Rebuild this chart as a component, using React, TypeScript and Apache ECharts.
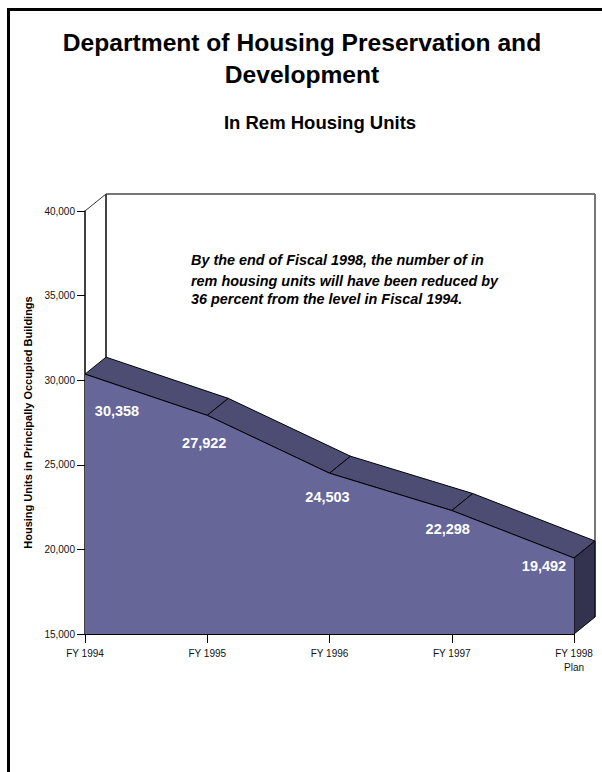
import React, { useEffect, useRef } from "react";
import * as echarts from "echarts";

const categories = ["FY 1994", "FY 1995", "FY 1996", "FY 1997", "FY 1998\nPlan"];
const units = [30358, 27922, 24503, 22298, 19492];
const unitLabels = ["30,358", "27,922", "24,503", "22,298", "19,492"];
const yMin = 15000;
const yMax = 40000;
const yStep = 5000;
const labelOffsets = [[32, 37], [-3, 28], [-2, 24], [-4, 18], [-30, 8]];
const noteLines = [
  "By the end of Fiscal 1998, the number of in",
  "rem housing units will have been reduced by",
  "36 percent from the level in Fiscal 1994.",
];
const noteY = [260, 281, 299];

const DX = 21;
const DY = -17;
const FONT = '"Liberation Sans", Arial, sans-serif';
const FRONT = "#666699";
const TOP = "#4d4d73";
const SIDE = "#33334f";

export default function App() {
  const ref = useRef<HTMLDivElement>(null);
  useEffect(() => {
    document.body.style.margin = "0";
    const chart = echarts.init(ref.current!, null, { renderer: "svg" });
    const option: any = {
      animation: false,
      backgroundColor: "#ffffff",
      title: [
        {
          text: "Department of Housing Preservation and\nDevelopment",
          left: 302,
          top: 26,
          padding: 0,
          textAlign: "center",
          textStyle: { fontFamily: FONT, fontSize: 24.6, fontWeight: "bold", color: "#000", lineHeight: 32.5 },
        },
        {
          text: "In Rem Housing Units",
          left: 320,
          top: 113,
          padding: 0,
          textAlign: "center",
          textStyle: { fontFamily: FONT, fontSize: 18.5, fontWeight: "bold", color: "#000" },
        },
      ],
      grid: { left: 85, right: 28, top: 211, bottom: 138, containLabel: false },
      xAxis: {
        type: "category",
        data: categories,
        boundaryGap: false,
        axisLine: { show: true, lineStyle: { color: "#000", width: 1 } },
        axisTick: { show: true, length: 9, alignWithLabel: true, lineStyle: { color: "#000", width: 1 } },
        axisLabel: {
          show: true, interval: 0, margin: 12, fontFamily: FONT, fontSize: 10, color: "#111", lineHeight: 14,
          showMinLabel: true, showMaxLabel: true, hideOverlap: false,
        },
      },
      yAxis: {
        type: "value",
        min: yMin,
        max: yMax,
        interval: yStep,
        name: "Housing Units in Principally Occupied Buildings",
        nameLocation: "middle",
        nameGap: 44.5,
        nameTextStyle: { fontFamily: FONT, fontSize: 11, fontWeight: "bold", color: "#000" },
        axisLine: { show: true, lineStyle: { color: "#000", width: 1.5 } },
        axisTick: { show: true, length: 8, lineStyle: { color: "#000", width: 1 } },
        axisLabel: {
          margin: 10, fontFamily: FONT, fontSize: 10, color: "#111",
          formatter: (v: number) => v.toLocaleString("en-US"),
        },
        splitLine: { show: false },
      },
      series: [
        {
          type: "custom",
          name: "walls",
          coordinateSystem: "cartesian2d",
          clip: false,
          silent: true,
          z: 1,
          data: [[0, yMax]],
          renderItem: (_p: any, api: any) => {
            const [x0, yT] = api.coord([0, yMax]);
            const [x1, yB] = api.coord([categories.length - 1, yMin]);
            const [, yF] = api.coord([0, units[0]]);
            const grey = { stroke: "#777777", lineWidth: 2, fill: "none" };
            return {
              type: "group",
              children: [
                { type: "line", shape: { x1: x0 + DX, y1: yT + DY, x2: x1 + DX, y2: yT + DY }, style: grey },
                { type: "line", shape: { x1: x1 + DX, y1: yT + DY, x2: x1 + DX, y2: yB + DY }, style: grey },
                { type: "line", shape: { x1: x0 + DX, y1: yT + DY, x2: x0 + DX, y2: yF + DY }, style: { stroke: "#444444", lineWidth: 2, fill: "none" } },
                { type: "line", shape: { x1: x0, y1: yT, x2: x0 + DX, y2: yT + DY }, style: { stroke: "#333333", lineWidth: 1, fill: "none" } },
              ],
            };
          },
        },
        {
          type: "custom",
          name: "top faces",
          coordinateSystem: "cartesian2d",
          clip: false,
          silent: true,
          z: 2,
          data: units.map((v, i) => [i, v]),
          renderItem: (p: any, api: any) => {
            const i = p.dataIndex;
            const a = api.coord([i, units[i]]);
            if (i === units.length - 1) {
              const b = api.coord([i, yMin]);
              return {
                type: "polygon",
                shape: { points: [a, [a[0] + DX, a[1] + DY], [b[0] + DX, b[1] + DY], b] },
                style: { fill: SIDE, stroke: "#000", lineWidth: 1 },
              };
            }
            const b = api.coord([i + 1, units[i + 1]]);
            return {
              type: "polygon",
              shape: { points: [a, b, [b[0] + DX, b[1] + DY], [a[0] + DX, a[1] + DY]] },
              style: { fill: TOP, stroke: "#000", lineWidth: 1 },
            };
          },
        },
        {
          type: "line",
          name: "In Rem Housing Units",
          data: units,
          z: 3,
          showSymbol: false,
          symbol: "none",
          silent: true,
          lineStyle: { color: "#000", width: 1 },
          areaStyle: { color: FRONT, opacity: 1 },
        },
        {
          type: "custom",
          name: "value labels",
          coordinateSystem: "cartesian2d",
          clip: false,
          silent: true,
          z: 5,
          data: units.map((v, i) => [i, v]),
          renderItem: (p: any, api: any) => {
            const i = p.dataIndex;
            const a = api.coord([i, units[i]]);
            return {
              type: "text",
              x: a[0] + labelOffsets[i][0],
              y: a[1] + labelOffsets[i][1],
              style: {
                text: unitLabels[i], fill: "#fff", font: `bold 14.5px ${FONT}`, textAlign: "center", textVerticalAlign: "middle",
              },
            };
          },
        },
      ],
      graphic: [
        { type: "rect", shape: { x: 7, y: 8, width: 3, height: 764 }, style: { fill: "#000" }, silent: true },
        { type: "rect", shape: { x: 7, y: 8, width: 595, height: 3 }, style: { fill: "#000" }, silent: true },
        ...noteLines.map((t, i) => ({
          type: "text",
          x: 191,
          y: noteY[i],
          silent: true,
          style: { text: t, fill: "#000", font: `italic bold 14.4px ${FONT}`, textAlign: "left", textVerticalAlign: "middle" },
        })),
      ],
    };
    chart.setOption(option);
    return () => chart.dispose();
  }, []);
  return <div ref={ref} style={{ width: 602, height: 772 }} />;
}
